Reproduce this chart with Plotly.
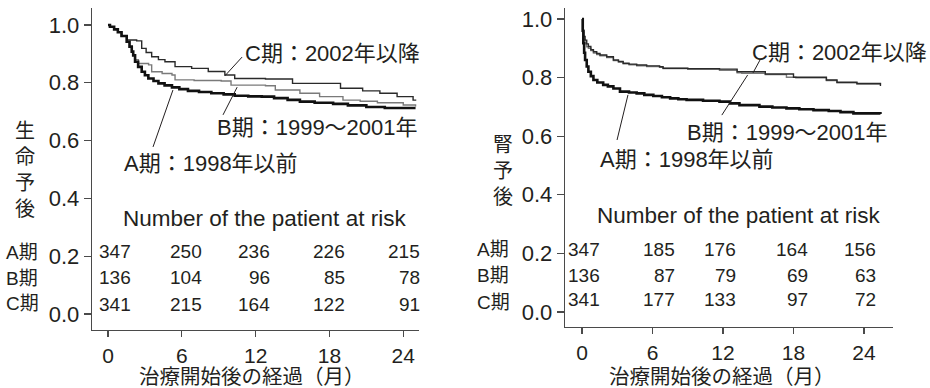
import plotly.graph_objects as go

# ---------------- data ----------------
months_ticks = [0, 6, 12, 18, 24]
surv_ticks = [0.0, 0.2, 0.4, 0.6, 0.8, 1.0]
group_names = ["A期", "B期", "C期"]
curve_labels = ["A期：1998年以前", "B期：1999～2001年", "C期：2002年以降"]

# Left panel: 生命予後 (overall survival)
os_a_t = [0, 0.16, 0.5, 0.8, 1.1, 1.52, 1.75, 1.93, 2.05, 2.2, 2.45, 2.74, 3.0, 3.28, 3.7, 4.1, 4.6, 5.2, 5.8,
          6.5, 7.4, 8.4, 9.4, 10.3, 11.4, 12.5, 13.5, 14.6, 15.6, 16.8, 18.3, 19.5, 21.0, 22.5, 25.0]
os_a_s = [1.0, 0.994, 0.985, 0.975, 0.962, 0.942, 0.925, 0.908, 0.895, 0.873, 0.855, 0.838, 0.826, 0.815, 0.806,
          0.798, 0.791, 0.784, 0.778, 0.772, 0.768, 0.764, 0.760, 0.755, 0.753, 0.752, 0.747, 0.741, 0.735, 0.731,
          0.727, 0.722, 0.716, 0.713, 0.713]
os_b_t = [0, 0.16, 0.5, 0.8, 1.1, 1.52, 1.75, 1.93, 2.05, 2.2, 2.47, 3.3, 3.55, 4.4, 5.2, 5.45, 7.0, 9.2, 10.0,
          12.8, 13.6, 15.6, 17.2, 19.1, 20.5, 21.9, 24.0, 25.0]
os_b_s = [1.0, 0.994, 0.985, 0.975, 0.962, 0.942, 0.925, 0.908, 0.895, 0.880, 0.867, 0.862, 0.838, 0.832, 0.827,
          0.810, 0.808, 0.806, 0.792, 0.790, 0.775, 0.764, 0.752, 0.740, 0.736, 0.731, 0.723, 0.718]
os_c_t = [0, 0.16, 0.5, 0.8, 1.1, 1.52, 2.33, 2.74, 3.1, 3.55, 4.1, 4.63, 5.45, 6.8, 8.15, 9.5, 10.3, 12.8, 15.0,
          18.9, 20.7, 22.1, 23.5, 24.8, 25.0]
os_c_s = [1.0, 0.994, 0.985, 0.975, 0.962, 0.948, 0.945, 0.919, 0.905, 0.890, 0.880, 0.873, 0.856, 0.850, 0.839,
          0.827, 0.815, 0.813, 0.798, 0.781, 0.772, 0.764, 0.752, 0.740, 0.738]

# Right panel: 腎予後 (renal survival)
rs_a_t = [0, 0.06, 0.11, 0.18, 0.26, 0.4, 0.54, 0.75, 0.97, 1.3, 1.8, 2.2, 2.67, 3.23, 4.0, 4.65, 5.3, 6.07, 6.8,
          7.5, 8.2, 8.9, 10.3, 11.7, 12.6, 13.4, 15.1, 16.2, 17.4, 18.5, 19.7, 21.0, 22.0, 23.1, 25.4]
rs_a_s = [1.0, 0.96, 0.917, 0.885, 0.860, 0.838, 0.820, 0.805, 0.792, 0.783, 0.775, 0.770, 0.763, 0.752, 0.749,
          0.746, 0.741, 0.737, 0.733, 0.729, 0.726, 0.724, 0.721, 0.718, 0.712, 0.706, 0.701, 0.698, 0.695, 0.692,
          0.689, 0.686, 0.682, 0.678, 0.676]
rs_b_t = [0, 0.05, 0.15, 0.26, 0.4, 0.54, 0.75, 0.97, 1.25, 1.53, 2.1, 2.67, 3.1, 3.5, 4.0, 4.65, 5.5, 6.6, 6.9,
          9.0, 11.7, 13.2, 13.6, 15.6, 17.4, 18.2, 20.8, 21.7, 22.4, 23.4, 25.4]
rs_b_s = [1.0, 0.955, 0.93, 0.915, 0.905, 0.90, 0.892, 0.884, 0.879, 0.874, 0.868, 0.858, 0.853, 0.847, 0.844,
          0.840, 0.838, 0.835, 0.831, 0.829, 0.825, 0.816, 0.815, 0.810, 0.801, 0.799, 0.790, 0.782, 0.782, 0.778,
          0.776]
rs_c_t = [0, 0.05, 0.15, 0.26, 0.4, 0.54, 0.75, 0.97, 1.25, 1.53, 2.1, 2.67, 3.1, 3.5, 4.0, 4.65, 5.5, 6.6, 6.9,
          9.0, 11.7, 13.2, 15.6, 18.0, 20.8, 21.7, 23.4, 25.3, 25.4]
rs_c_s = [1.0, 0.96, 0.94, 0.928, 0.915, 0.906, 0.895, 0.888, 0.882, 0.877, 0.871, 0.860, 0.855, 0.849, 0.846,
          0.843, 0.840, 0.837, 0.832, 0.830, 0.829, 0.820, 0.812, 0.801, 0.792, 0.784, 0.780, 0.780, 0.771]

# Numbers at risk
os_risk_a = [347, 250, 236, 226, 215]
os_risk_b = [136, 104, 96, 85, 78]
os_risk_c = [341, 215, 164, 122, 91]
rs_risk_a = [347, 185, 176, 164, 156]
rs_risk_b = [136, 87, 79, 69, 63]
rs_risk_c = [341, 177, 133, 97, 72]

# ---------------- styling ----------------
FONT = "Liberation Sans, Arial, Noto Sans CJK JP, sans-serif"
TXT = "#231f20"
AX = "#4a4a4a"
W, H = 930, 388

styles = {
    "A": dict(color="#111111", width=2.6),
    "B": dict(color="#7a7a7a", width=1.4),
    "C": dict(color="#2a2a2a", width=1.4),
}

fig = go.Figure()

panels = [
    dict(xa="x", ya="y", curves=[(os_a_t, os_a_s, "A"), (os_b_t, os_b_s, "B"), (os_c_t, os_c_s, "C")],
         risk=[os_risk_a, os_risk_b, os_risk_c]),
    dict(xa="x2", ya="y2", curves=[(rs_a_t, rs_a_s, "A"), (rs_b_t, rs_b_s, "B"), (rs_c_t, rs_c_s, "C")],
         risk=[rs_risk_a, rs_risk_b, rs_risk_c]),
]

# draw B and C first, A on top
for p in panels:
    order = [p["curves"][1], p["curves"][2], p["curves"][0]]
    for t, s, g in order:
        fig.add_trace(go.Scatter(x=t, y=s, mode="lines", line=dict(shape="hv", **styles[g]),
                                 xaxis=p["xa"], yaxis=p["ya"], showlegend=False, hoverinfo="skip"))

annotations = []
shapes = []

# curve labels + leader lines (positions in data coords)
label_pos = [
    # panel 1
    [(1.14, 0.522, (3.66, 0.578, 5.28, 0.775)),
     (8.7, 0.647, (9.35, 0.689, 10.5, 0.785)),
     (11.0, 0.903, (10.9, 0.889, 9.5, 0.824))],
    # panel 2
    [(1.36, 0.519, (2.98, 0.587, 3.91, 0.741)),
     (8.77, 0.614, (11.9, 0.672, 14.1, 0.809)),
     (14.3, 0.884, (15.15, 0.860, 14.55, 0.816))],
]
for p, lp in zip(panels, label_pos):
    for lbl, (lx, ly, (x0, y0, x1, y1)) in zip(curve_labels, lp):
        annotations.append(dict(x=lx, y=ly, xref=p["xa"], yref=p["ya"], text=lbl, showarrow=False,
                                xanchor="left", yanchor="middle", font=dict(size=22, color=TXT, family=FONT)))
        shapes.append(dict(type="line", xref=p["xa"], yref=p["ya"], x0=x0, y0=y0, x1=x1, y1=y1,
                           line=dict(color=TXT, width=1)))

# risk tables
risk_rows_y = [[0.215, 0.125, 0.033], [0.215, 0.126, 0.041]]
risk_shift = [[25, 22, 16, 18, 19], [20, 24, 15, 16, 14]]
header_pos = [(12.76, 0.332), (13.28, 0.331)]
for i, p in enumerate(panels):
    for row, ry in zip(p["risk"], risk_rows_y[i]):
        for t, n, sh in zip(months_ticks, row, risk_shift[i]):
            annotations.append(dict(x=t, y=ry, xref=p["xa"], yref=p["ya"], text=str(n), showarrow=False,
                                    xanchor="right", yanchor="middle", xshift=sh,
                                    font=dict(size=19, color=TXT, family=FONT)))
    hx, hy = header_pos[i]
    annotations.append(dict(x=hx, y=hy, xref=p["xa"], yref=p["ya"], text="Number of the patient at risk",
                            showarrow=False, xanchor="center", yanchor="middle",
                            font=dict(size=22.5, color=TXT, family=FONT)))

# row labels
row_label_px = [(22, [252, 278, 303]), (493, [249, 275, 302])]
for xpx, ys in row_label_px:
    for g, ypx in zip(group_names, ys):
        annotations.append(dict(x=xpx / W, y=1 - ypx / H, xref="paper", yref="paper", text=g, showarrow=False,
                                xanchor="center", yanchor="middle", font=dict(size=19, color=TXT, family=FONT)))

# y-axis titles (vertical stacked)
ytitles = [("生<br>命<br>予<br>後", 25, 170), ("腎<br>予<br>後", 503, 171)]
for txt, xpx, ypx in ytitles:
    annotations.append(dict(x=xpx / W, y=1 - ypx / H, xref="paper", yref="paper", text=txt, showarrow=False,
                            xanchor="center", yanchor="middle",
                            font=dict(size=20, color=TXT, family=FONT)))

# x-axis titles
xtitles = [(252, 376.5), (722, 376.5)]
for xpx, ypx in xtitles:
    annotations.append(dict(x=xpx / W, y=1 - ypx / H, xref="paper", yref="paper", text="治療開始後の経過（月）",
                            showarrow=False, xanchor="center", yanchor="middle",
                            font=dict(size=20.5, color=TXT, family=FONT)))

axis_common = dict(showline=True, linecolor=AX, linewidth=1.3, ticks="outside", tickwidth=1.2,
                   tickcolor=AX, showgrid=False, zeroline=False)
ytick = dict(ticklen=7, tickfont=dict(size=22, color=TXT, family=FONT))
xtick = dict(ticklen=6, tickfont=dict(size=21, color=TXT, family=FONT))

fig.update_layout(
    width=W, height=H,
    margin=dict(l=0, r=0, t=0, b=0),
    paper_bgcolor="white", plot_bgcolor="white",
    showlegend=False,
    font=dict(family=FONT, color=TXT),
    xaxis=dict(domain=[92 / W, 419 / W], range=[-1.3, 25.28], tickvals=months_ticks, anchor="y",
               **axis_common, **xtick),
    yaxis=dict(domain=[1 - 330 / H, 1 - 8 / H], range=[-0.0554, 1.0588], tickvals=surv_ticks, tickformat=".1f",
               anchor="x", **axis_common, **ytick),
    xaxis2=dict(domain=[565 / W, 893 / W], range=[-1.45, 26.47], tickvals=months_ticks, anchor="y2",
                **axis_common, **xtick),
    yaxis2=dict(domain=[1 - 327 / H, 1 - 8 / H], range=[-0.0512, 1.0375], tickvals=surv_ticks, tickformat=".1f",
                anchor="x2", **axis_common, **ytick),
    annotations=annotations,
    shapes=shapes,
)

fig.write_html("out.html", config={"displayModeBar": False, "staticPlot": True},
               post_script="document.body.style.margin='0';document.body.style.padding='0';")
